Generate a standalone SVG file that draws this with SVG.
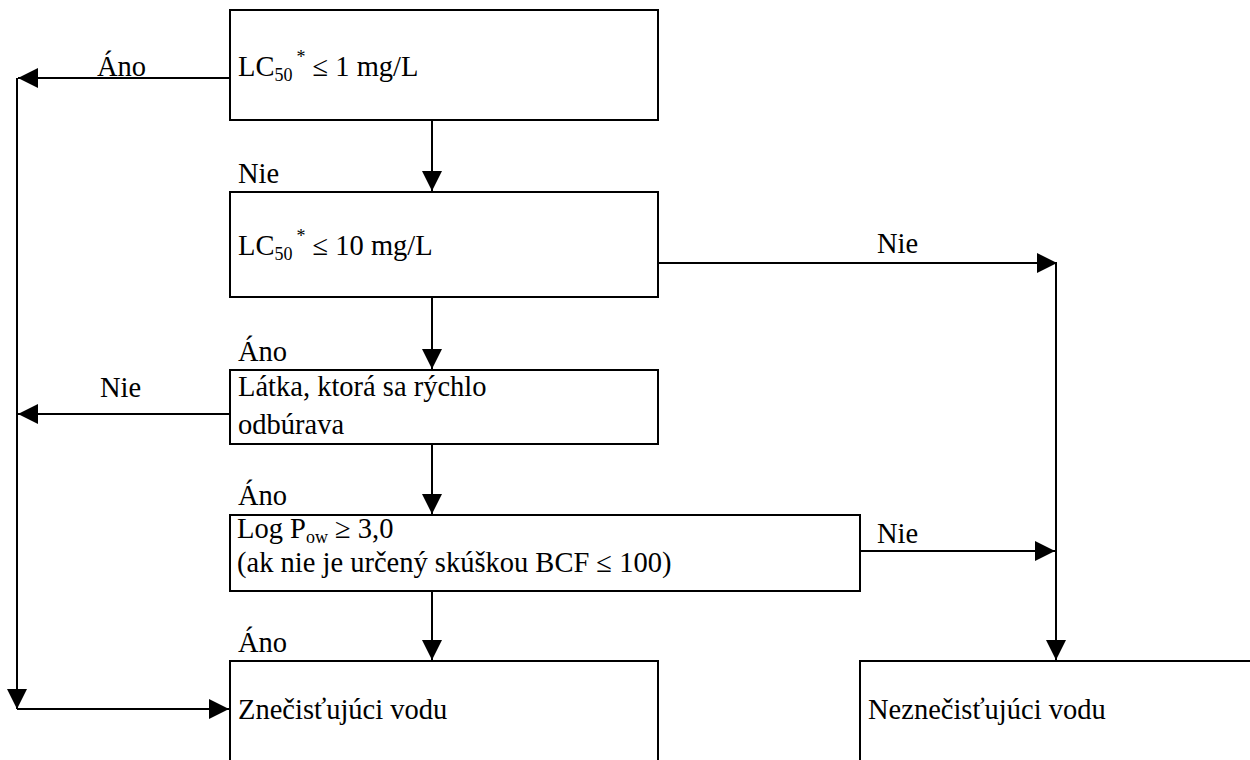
<svg xmlns="http://www.w3.org/2000/svg" width="1250" height="760" viewBox="0 0 1250 760">
<style>
text{font-family:"Liberation Serif","Times New Roman",serif;font-size:28.5px;fill:#000}
.box{fill:#fff;stroke:#000;stroke-width:2}
.ln{fill:none;stroke:#000;stroke-width:2}
.sub{font-size:18px}
</style>
<defs>
<marker id="ah" markerUnits="userSpaceOnUse" markerWidth="20" markerHeight="20" refX="20" refY="10" orient="auto">
<path d="M0,0 L20,10 L0,20 Z" fill="#000"/>
</marker>
</defs>
<rect width="1250" height="760" fill="#fff"/>
<g id="connectors">
<path class="ln" d="M229,78 H18" marker-end="url(#ah)"/>
<path class="ln" d="M17,78 V709" marker-end="url(#ah)"/>
<path class="ln" d="M17,709 H229" marker-end="url(#ah)"/>
<path class="ln" d="M229,414 H18" marker-end="url(#ah)"/>
<path class="ln" d="M432,120 V191" marker-end="url(#ah)"/>
<path class="ln" d="M432,297 V369" marker-end="url(#ah)"/>
<path class="ln" d="M432,444 V514" marker-end="url(#ah)"/>
<path class="ln" d="M432,591 V660" marker-end="url(#ah)"/>
<path class="ln" d="M655,263 H1057" marker-end="url(#ah)"/>
<path class="ln" d="M1056,263 V660" marker-end="url(#ah)"/>
<path class="ln" d="M860,551 H1055" marker-end="url(#ah)"/>
<text x="97" y="76">Áno</text>
<text x="238" y="183">Nie</text>
<text x="877" y="253">Nie</text>
<text x="238" y="361">Áno</text>
<text x="100" y="397">Nie</text>
<text x="238" y="505">Áno</text>
<text x="877" y="543">Nie</text>
<text x="238" y="652">Áno</text>
</g>
<g id="n1">
<rect class="box" x="230" y="10" width="428" height="110"/>
<text x="238" y="76">LC<tspan class="sub" dy="5">50</tspan><tspan class="sub" dx="4" dy="-18">*</tspan><tspan dy="13"> ≤ 1 mg/L</tspan></text>
</g>
<g id="n2">
<rect class="box" x="230" y="192" width="428" height="105"/>
<text x="238" y="255">LC<tspan class="sub" dy="5">50</tspan><tspan class="sub" dx="4" dy="-18">*</tspan><tspan dy="13"> ≤ 10 mg/L</tspan></text>
</g>
<g id="n3">
<rect class="box" x="230" y="370" width="428" height="74"/>
<text x="238" y="396">Látka, ktorá sa rýchlo</text>
<text x="238" y="434">odbúrava</text>
</g>
<g id="n4">
<rect class="box" x="230" y="515" width="630" height="76"/>
<text x="237" y="538">Log P<tspan class="sub" dy="5">ow</tspan><tspan dy="-5"> ≥ 3,0</tspan></text>
<text x="237" y="572">(ak nie je určený skúškou BCF ≤ 100)</text>
</g>
<g id="n5">
<rect class="box" x="230" y="661" width="428" height="110"/>
<text x="238" y="719">Znečisťujúci vodu</text>
</g>
<g id="n6">
<rect class="box" x="860" y="661" width="400" height="110"/>
<text x="868" y="719">Neznečisťujúci vodu</text>
</g>
</svg>
